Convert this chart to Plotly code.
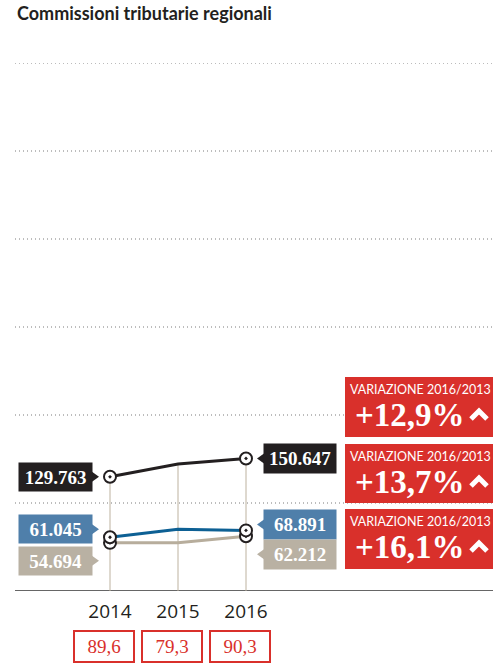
import plotly.graph_objects as go

# ---------------- data ----------------
years = [2014, 2015, 2016]
year_labels = ["2014", "2015", "2016"]
series_names = ["Totale", "Serie blu", "Serie beige"]
total = [129763, 144300, 150647]
blue = [61045, 70100, 68891]
beige = [54694, 54900, 62212]
grid_values = [100000, 200000, 300000, 400000, 500000, 600000]
variations = ["+12,9%", "+13,7%", "+16,1%"]
bottom_values = ["89,6", "79,3", "90,3"]
title = "Commissioni tributarie regionali"
var_label = "VARIAZIONE 2016/2013"

# ---------------- styles ----------------
W, H = 493, 669
ML, MR, MT, MB = 15, 0, 63, 78
PW, PH = W - ML - MR, H - MT - MB

line_colors = ["#231f20", "#0d6094", "#b7ad9c"]
box_colors = ["#231f20", "#4f7faa", "#b9b1a3"]
left_yshift = [0, 8, -18]
right_yshift = [0, 6, -18]
RED = "#d9302b"
SERIF = "Liberation Serif, DejaVu Serif, serif"
SANS = "Lato, Open Sans, sans-serif"


def px(x):  # picture pixel -> paper
    return (x - ML) / PW


def py(y):
    return (H - MB - y) / PH


series = [total, blue, beige]

fig = go.Figure()

shapes = []
# dotted gridlines
for g in grid_values:
    shapes.append(dict(type="line", xref="paper", yref="y", x0=0, x1=1, y0=g, y1=g,
                       line=dict(color="#7a7a7a", width=1, dash="1px,3px"), layer="below"))
# baseline
shapes.append(dict(type="line", xref="paper", yref="y", x0=0, x1=1, y0=0, y1=0,
                   line=dict(color="#333333", width=1.5), layer="below"))
# vertical guide lines
for i, yr in enumerate(years):
    shapes.append(dict(type="line", xref="x", yref="y", x0=yr, x1=yr, y0=0, y1=total[i],
                       line=dict(color="#bdb29f", width=1), layer="below"))

for s, vals in enumerate(series):
    fig.add_trace(go.Scatter(x=years, y=vals, mode="lines", name=series_names[s],
                             line=dict(color=line_colors[s], width=3), showlegend=False,
                             hoverinfo="skip"))
for s, vals in enumerate(series[::-1]):
    fig.add_trace(go.Scatter(x=[years[0], years[-1]], y=[vals[0], vals[-1]], mode="markers",
                             marker=dict(symbol="circle-dot", size=12, color="white",
                                         line=dict(color="#231f20", width=2)),
                             showlegend=False, hoverinfo="skip"))

annotations = []


def fmt(v):
    return f"{v:,}".replace(",", ".")


for s, vals in enumerate(series):
    # left label
    annotations.append(dict(x=years[0], y=vals[0], xref="x", yref="y", xanchor="right",
                            yanchor="middle", xshift=-17, yshift=left_yshift[s], showarrow=False,
                            text="<b>" + fmt(vals[0]) + "</b>", width=73, height=28, borderpad=0,
                            bgcolor=box_colors[s], align="center",
                            font=dict(family=SERIF, size=19, color="white")))
    ys = left_yshift[s]
    shapes.append(dict(type="path", xref="x", yref="y", xsizemode="pixel", ysizemode="pixel",
                       xanchor=years[0], yanchor=vals[0],
                       path=f"M -18,{ys + 5} L -11,{ys} L -18,{ys - 5} Z",
                       fillcolor=box_colors[s], line=dict(width=0)))
    # right label
    annotations.append(dict(x=years[-1], y=vals[-1], xref="x", yref="y", xanchor="left",
                            yanchor="middle", xshift=17, yshift=right_yshift[s], showarrow=False,
                            text="<b>" + fmt(vals[-1]) + "</b>", width=72, height=29, borderpad=0,
                            bgcolor=box_colors[s], align="center",
                            font=dict(family=SERIF, size=19, color="white")))
    ys = right_yshift[s]
    shapes.append(dict(type="path", xref="x", yref="y", xsizemode="pixel", ysizemode="pixel",
                       xanchor=years[-1], yanchor=vals[-1],
                       path=f"M 18,{ys + 5} L 11,{ys} L 18,{ys - 5} Z",
                       fillcolor=box_colors[s], line=dict(width=0)))

# red variation boxes
red_tops = [377, 444, 509]
red_h = [60, 59, 60]
for k, txt in enumerate(variations):
    top = red_tops[k]
    shapes.append(dict(type="rect", xref="paper", yref="paper", x0=px(345), x1=px(493),
                       y0=py(top + red_h[k]), y1=py(top), fillcolor=RED, line=dict(width=0),
                       layer="above"))
    annotations.append(dict(x=px(420), y=py(top + 12), xref="paper", yref="paper",
                            xanchor="center", yanchor="middle", showarrow=False, text=var_label,
                            font=dict(family=SANS, size=12.5, color="white")))
    annotations.append(dict(x=px(410), y=py(top + 38), xref="paper", yref="paper",
                            xanchor="center", yanchor="middle", showarrow=False,
                            text="<b>" + txt + "</b>",
                            font=dict(family=SERIF, size=33, color="white")))
    cy = top + 38
    shapes.append(dict(type="path", xref="paper", yref="paper",
                       path=f"M {px(471)},{py(cy + 4)} L {px(479)},{py(cy - 4)} L {px(487)},{py(cy + 4)}",
                       line=dict(color="white", width=5)))

# bottom boxed values
for i, yr in enumerate(years):
    annotations.append(dict(x=yr, y=py(646), xref="x", yref="paper", xanchor="center",
                            yanchor="middle", xshift=-6, showarrow=False, text=bottom_values[i],
                            width=56, height=27, borderpad=1, borderwidth=2, bordercolor=RED,
                            font=dict(family=SERIF, size=19, color=RED)))

# title
annotations.append(dict(x=0, y=py(13), xref="paper", yref="paper", xanchor="left",
                        yanchor="middle", showarrow=False, text="<b>" + title + "</b>",
                        font=dict(family=SANS, size=18, color="#231f20")))

fig.update_layout(
    width=W, height=H,
    margin=dict(l=ML, r=MR, t=MT, b=MB, pad=0),
    paper_bgcolor="white", plot_bgcolor="white",
    shapes=shapes, annotations=annotations,
    hovermode=False,
    xaxis=dict(range=[2014 - 95 / 68, 2016 + 247 / 68], tickvals=years, ticktext=year_labels,
               showgrid=False, zeroline=False, showline=False, ticks="outside", ticklen=3,
               tickcolor="rgba(0,0,0,0)",
               tickfont=dict(family="Open Sans, sans-serif", size=19, color="#231f20"),
               fixedrange=True),
    yaxis=dict(range=[0, 600000], showgrid=False, zeroline=False,
               showticklabels=False, fixedrange=True),
    showlegend=False,
)

fig.write_html("out.html", config={"displayModeBar": False, "staticPlot": True},
               post_script="document.body.style.margin='0';document.body.style.overflow='hidden';")
